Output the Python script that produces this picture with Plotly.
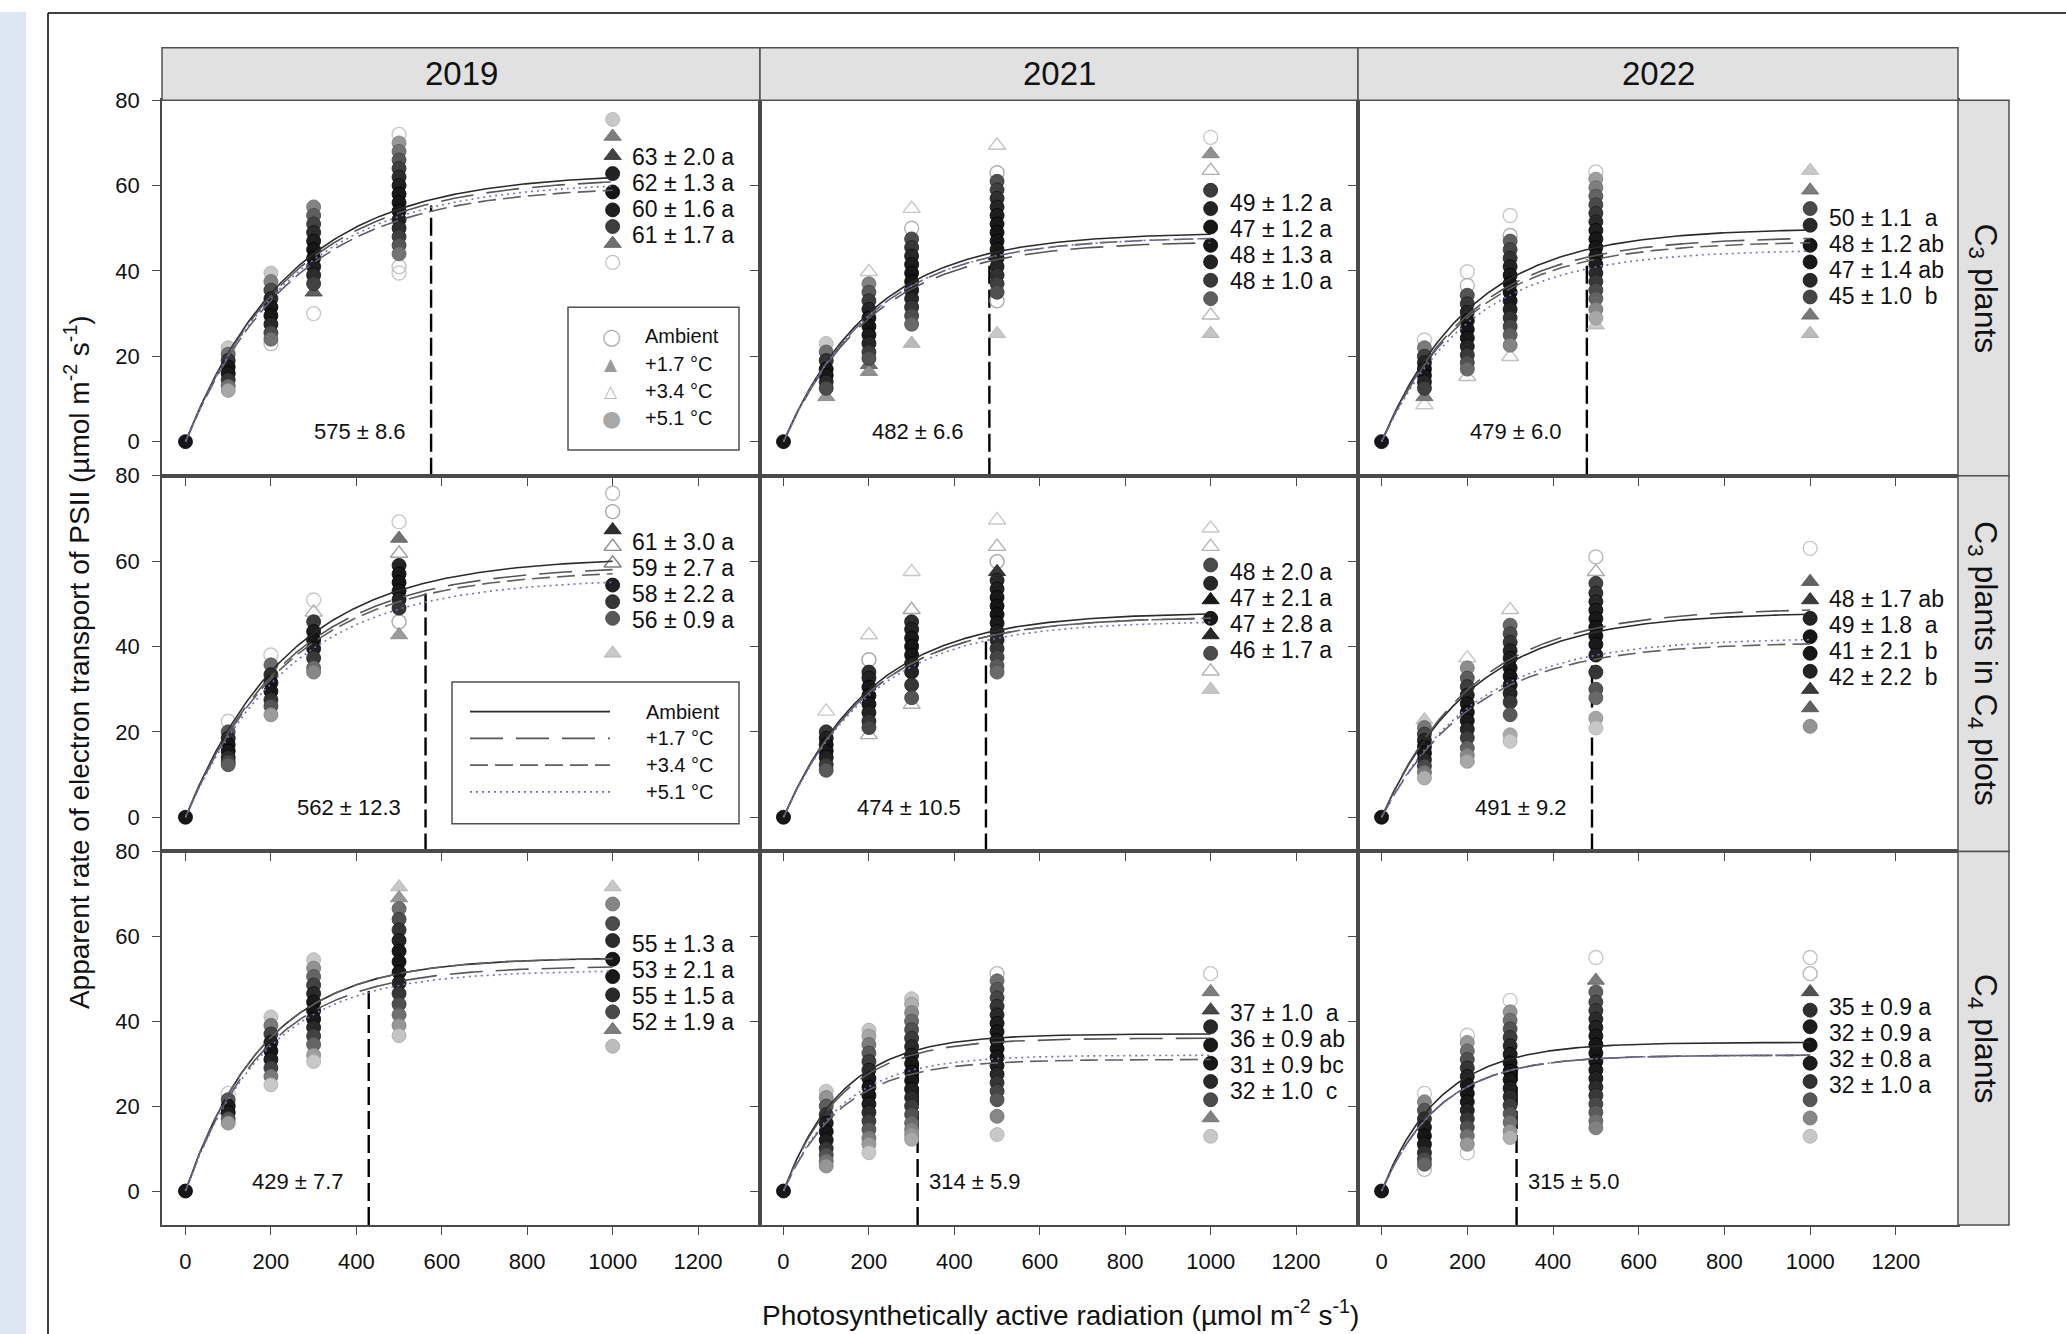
import numpy as np
import plotly.graph_objects as go

# ---------------------------------------------------------------- data
YEARS = [2019, 2021, 2022]
GROUPS = ["C3", "C3inC4", "C4"]
GROUP_TITLES = {
    "C3": "C<sub>3</sub> plants",
    "C3inC4": "C<sub>3</sub> plants in C<sub>4</sub> plots",
    "C4": "C<sub>4</sub> plants",
}
TREATMENTS = ["Ambient", "+1.7 °C", "+3.4 °C", "+5.1 °C"]
PAR_TICKS = [0, 200, 400, 600, 800, 1000, 1200]
J_TICKS = [0, 20, 40, 60, 80]

# fitted maximum apparent ETR (Ambient, +1.7, +3.4, +5.1 °C)
jmax_c3 = {2019: [63, 62, 60, 61], 2021: [49, 47, 48, 48], 2022: [50, 48, 47, 45]}
jmax_c3inc4 = {2019: [61, 59, 58, 56], 2021: [48, 47, 47, 46], 2022: [48, 49, 41, 42]}
jmax_c4 = {2019: [55, 53, 55, 52], 2021: [37, 36, 31, 32], 2022: [35, 32, 32, 32]}

se_c3 = {2019: [2.0, 1.3, 1.6, 1.7], 2021: [1.2, 1.2, 1.3, 1.0], 2022: [1.1, 1.2, 1.4, 1.0]}
se_c3inc4 = {2019: [3.0, 2.7, 2.2, 0.9], 2021: [2.0, 2.1, 2.8, 1.7], 2022: [1.7, 1.8, 2.1, 2.2]}
se_c4 = {2019: [1.3, 2.1, 1.5, 1.9], 2021: [1.0, 0.9, 0.9, 1.0], 2022: [0.9, 0.9, 0.8, 1.0]}

letters_c3 = {2019: ["a", "a", "a", "a"], 2021: ["a", "a", "a", "a"], 2022: ["a", "ab", "ab", "b"]}
letters_c3inc4 = {2019: ["a", "a", "a", "a"], 2021: ["a", "a", "a", "a"], 2022: ["ab", "a", "b", "b"]}
letters_c4 = {2019: ["a", "a", "a", "a"], 2021: ["a", "ab", "bc", "c"], 2022: ["a", "a", "a", "a"]}

# light saturation point (mean, SE)
sat_c3 = {2019: (575, 8.6), 2021: (482, 6.6), 2022: (479, 6.0)}
sat_c3inc4 = {2019: (562, 12.3), 2021: (474, 10.5), 2022: (491, 9.2)}
sat_c4 = {2019: (429, 7.7), 2021: (314, 5.9), 2022: (315, 5.0)}

# measured apparent ETR per PAR step (each list ordered from highest to lowest)
obs_c3_2019 = {
    0: [0],
    100: [22, 20.5, 19, 17.5, 16, 14.5, 13, 12],
    200: [39.5, 37.5, 35.5, 33.5, 31.5, 29.5, 27.5, 25.5, 24, 23],
    300: [55, 53, 51, 49, 47, 45, 43, 41, 39, 37, 35, 30],
    500: [72, 70, 68, 66, 64, 62, 60, 58, 56, 54, 52, 50, 48, 46, 44, 41, 39.5],
    1000: [75.5, 71.5, 67, 62.8, 58.5, 54.3, 50.4, 46.4, 42],
}
obs_c3_2021 = {
    0: [0],
    100: [23, 21, 19, 17, 15.5, 14, 12.5, 10.5],
    200: [39.8, 37, 35, 33, 31, 29, 27, 25, 23, 21, 19.5, 18, 16.4],
    300: [54.6, 50, 47.5, 45.5, 43.5, 41.5, 39.5, 37.5, 35.5, 33.5, 31.5, 29.5, 27.5, 23],
    500: [69.4, 63, 61, 59, 57, 55, 53, 51, 49, 47, 45, 43, 41, 39, 37, 35, 33, 25.3],
    1000: [71.3, 67.4, 63.5, 58.9, 54.6, 50.3, 46, 42.1, 37.8, 33.5, 29.6, 25.3],
}
obs_c3_2022 = {
    0: [0],
    100: [23.8, 22, 20, 18.5, 17, 15.5, 14, 12.5, 10.5, 8.6],
    200: [39.8, 36.6, 34.3, 32.3, 30.3, 28.3, 26.3, 24.3, 22.3, 20.3, 18.5, 17, 15.2],
    300: [53, 48.3, 47, 45, 43, 41, 39, 37, 35, 33, 31, 29, 27, 25, 22.6, 19.9],
    500: [63.2, 61.5, 59.5, 57.5, 55.5, 53.5, 51.5, 49.5, 47.5, 45.5, 43.5, 41.5, 39.5,
          37.5, 35.5, 33.5, 31, 29, 27.3],
    1000: [63.5, 58.9, 54.6, 50.7, 46, 42.1, 37.8, 33.9, 29.6, 25.3],
}
obs_c3inc4_2019 = {
    0: [0],
    100: [22.5, 20, 18.5, 17, 15.5, 14, 13, 12.3],
    200: [38, 35.7, 33.4, 31.5, 29.5, 27.5, 26, 24],
    300: [50.9, 48, 45.8, 43.5, 41.5, 39.5, 37.3, 35, 34],
    500: [69.2, 65.3, 61.8, 59, 57, 55, 53, 51, 49, 45.8, 42.7],
    1000: [75.9, 71.6, 67.3, 63.4, 59.5, 54.4, 50.5, 46.6, 38.4],
}
obs_c3inc4_2021 = {
    0: [0],
    100: [24.8, 20, 18.5, 17, 15.5, 14, 12.3, 11],
    200: [42.7, 36.9, 34, 32.6, 30.5, 28.5, 26.5, 24.5, 22.5, 21, 19.3],
    300: [57.5, 48.6, 45.8, 44, 42, 40, 38, 36, 34, 31, 28, 26.4],
    500: [69.6, 63.4, 59.9, 57.5, 55.5, 53.5, 51.5, 49.5, 47.5, 45.5, 43.5, 41.5, 39.5,
          37.5, 35.5, 34],
    1000: [67.7, 63.4, 59.1, 54.8, 50.9, 46.6, 42.7, 38.4, 34.2, 29.9],
}
obs_c3inc4_2022 = {
    0: [0],
    100: [22.8, 21, 19.5, 18, 16.5, 15, 13.5, 12, 10.5, 9.2],
    200: [37.3, 35, 32.6, 30.6, 28.6, 26.6, 24.6, 22.6, 20.6, 18.6, 16.2, 14.5, 13.1],
    300: [48.6, 45, 43, 41, 39, 37.3, 35, 33, 31, 29, 27, 24, 19.3, 17.8],
    500: [61, 57.5, 54.8, 52.5, 50.5, 48.5, 46.5, 44.5, 42.5, 40.5, 38, 34, 30, 28, 23.2, 20.9],
    1000: [63, 55.2, 50.9, 46.6, 42.3, 38.4, 34.2, 29.9, 25.6, 21.3],
}
obs_c4_2019 = {
    0: [0],
    100: [23, 21.5, 20, 18.5, 17, 16],
    200: [41, 39, 37, 35, 33, 31, 29, 27, 25],
    300: [54.5, 52.5, 50.5, 48.5, 46.5, 44.5, 42.5, 40.5, 38.5, 36.5, 34.5, 32, 30.5],
    500: [71.6, 69, 66.5, 64, 61.5, 59, 56.5, 54, 51.5, 49, 46.5, 44, 41.5, 39, 36.6],
    1000: [71.6, 67.6, 63, 59, 54.6, 50.5, 46.2, 42.2, 38, 34.1],
}
obs_c4_2021 = {
    0: [0],
    100: [23.5, 22, 20, 18, 16, 14, 12, 10, 8.5, 7.1, 5.9],
    200: [37.9, 36.5, 34.5, 32.5, 30.5, 28.5, 26.5, 24.5, 22.5, 20.5, 18.5, 16.5, 14.5,
          12.5, 11, 9],
    300: [45.3, 44, 42, 40, 38, 36, 34, 32, 30, 28, 26, 24, 22, 20, 18, 16, 14.5, 13.3, 12.2],
    500: [51.2, 49.5, 47.5, 45.5, 43.5, 41.5, 39.5, 37.5, 35.5, 33.5, 31.5, 29.5, 27.5,
          25.5, 23.5, 21.5, 17.6, 13.3],
    1000: [51.2, 46.9, 42.6, 38.7, 34.4, 30.1, 25.8, 21.5, 17.2, 12.9],
}
obs_c4_2022 = {
    0: [0],
    100: [23, 21, 19, 17, 15, 13, 11, 9, 7.5, 6.3, 5.1],
    200: [36.7, 35, 33, 31, 29, 27, 25, 23, 21, 19, 17, 15, 13, 11, 9],
    300: [44.9, 42.2, 40.2, 38.2, 36.2, 34.2, 32.2, 30.2, 28.2, 26.2, 24.2, 22.2, 20.2,
          18.2, 16.2, 14.1, 12.6],
    500: [55, 49.6, 46.9, 44.5, 42.5, 40.5, 38.5, 36.5, 34.5, 32.5, 30.5, 28.5, 26.5, 24.5,
          22.5, 20.5, 18.5, 16.5, 14.9],
    1000: [55, 51.2, 46.9, 42.6, 38.7, 34.4, 30.1, 25.8, 21.5, 17.2, 12.9],
}

# treatment code of the top / bottom readings of each column ("head|tail"),
# o = Ambient, A = +1.7 °C, a = +3.4 °C, c = +5.1 °C (the rest are +5.1 °C)
trt_c3_2019 = {100: "|", 200: "|o", 300: "|Ao", 500: "o|oo", 1000: "cAA|Ao"}
trt_c3_2021 = {100: "|A", 200: "a|AA", 300: "ao|A", 500: "ao|oA", 1000: "oAa|aA"}
trt_c3_2022 = {100: "o|Aa", 200: "oo|a", 300: "oo|a", 500: "o|A", 1000: "AA|AA"}
trt_c3inc4_2019 = {100: "o|", 200: "o|", 300: "oa|", 500: "oAa|oA", 1000: "ooAaa|A"}
trt_c3inc4_2021 = {100: "a|", 200: "ao|a", 300: "aa|a", 500: "aaoA|", 1000: "aaccA|AcaA"}
trt_c3inc4_2022 = {100: "A|", 200: "a|", 300: "a|", 500: "oa|", 1000: "oAA|AAc"}
trt_c4_2019 = {100: "o|", 200: "|", 300: "|", 500: "AA|", 1000: "A|Ac"}
trt_c4_2021 = {100: "|", 200: "|", 300: "|", 500: "o|", 1000: "oAA|Ac"}
trt_c4_2022 = {100: "o|o", 200: "o|o", 300: "o|", 500: "oA|", 1000: "ooA|"}

PANELS = {
    ("C3", 2019): (obs_c3_2019, trt_c3_2019), ("C3", 2021): (obs_c3_2021, trt_c3_2021),
    ("C3", 2022): (obs_c3_2022, trt_c3_2022),
    ("C3inC4", 2019): (obs_c3inc4_2019, trt_c3inc4_2019),
    ("C3inC4", 2021): (obs_c3inc4_2021, trt_c3inc4_2021),
    ("C3inC4", 2022): (obs_c3inc4_2022, trt_c3inc4_2022),
    ("C4", 2019): (obs_c4_2019, trt_c4_2019), ("C4", 2021): (obs_c4_2021, trt_c4_2021),
    ("C4", 2022): (obs_c4_2022, trt_c4_2022),
}
JMAX = {"C3": jmax_c3, "C3inC4": jmax_c3inc4, "C4": jmax_c4}
SE = {"C3": se_c3, "C3inC4": se_c3inc4, "C4": se_c4}
LETTERS = {"C3": letters_c3, "C3inC4": letters_c3inc4, "C4": letters_c4}
SAT = {"C3": sat_c3, "C3inC4": sat_c3inc4, "C4": sat_c4}

# ---------------------------------------------------------------- layout / style
W, H = 2066, 1334
COL_PX = [(162, 760), (760, 1358), (1358, 1958)]
ROW_PX = [(89, 468), (468, 847), (847, 1224)]
STRIP_TOP, STRIP_RIGHT = 36, 2009
X_RANGE = [-55, 1345]
Y_RANGE = [-8, 80]
FONT = "Arial, 'Liberation Sans', Helvetica, sans-serif"
INK = "#111111"
AXIS_COL = "#4a4a4a"

# vertical position (y units) of the first J_max label in each panel
LABEL_TOP = {
    ("C3", 2019): 66.7, ("C3", 2021): 56.0, ("C3", 2022): 52.5,
    ("C3inC4", 2019): 64.5, ("C3inC4", 2021): 57.4, ("C3inC4", 2022): 51.2,
    ("C4", 2019): 58.3, ("C4", 2021): 41.9, ("C4", 2022): 43.4,
}
SAT_LABEL_RIGHT = {("C4", 2021), ("C4", 2022)}

CURVE_STYLE = [
    dict(color="#2a2a2a", width=1.6, dash="solid"),
    dict(color="#555555", width=1.6, dash="33px,13px"),
    dict(color="#606060", width=1.6, dash="18px,7px"),
    dict(color="#6f6fc8", width=1.6, dash="2px,4px"),
]
SYMBOLS = {"o": "circle-open", "a": "triangle-up-open", "A": "triangle-up", "c": "circle"}


def px_x(p):
    return p / W


def px_y(p):
    return 1 - p / H


def response(par, jmax, sat):
    # exponential rise that reaches 90 % of J_max at the saturation point
    return jmax * (1 - np.exp(-np.log(10) * np.asarray(par, float) / sat))


def column_codes(n, spec):
    head, tail = spec.split("|")
    codes = ["c"] * n
    for k, ch in enumerate(head):
        codes[k] = ch
    for k, ch in enumerate(tail):
        codes[n - len(tail) + k] = ch
    return codes


def paper_text(x, y, text, size, xanchor="center", yanchor="middle", **kw):
    return dict(x=px_x(x), y=px_y(y), xref="paper", yref="paper", text=text,
                xanchor=xanchor, yanchor=yanchor, showarrow=False,
                font=dict(size=size, color=kw.pop("color", INK), family=kw.pop("family", FONT)),
                **kw)


fig = go.Figure()
annotations, shapes, axes = [], [], {}

for r, grp in enumerate(GROUPS):
    for c, yr in enumerate(YEARS):
        idx = r * 3 + c + 1
        sfx = "" if idx == 1 else str(idx)
        xr, yr_ref = f"x{sfx}", f"y{sfx}"
        axes[f"xaxis{sfx}"] = dict(
            domain=[px_x(COL_PX[c][0]), px_x(COL_PX[c][1])], anchor=yr_ref, range=X_RANGE,
            tickvals=PAR_TICKS, showticklabels=(r == 2), ticks="outside", ticklen=8,
            tickwidth=1.3, tickcolor=AXIS_COL, showline=True, linecolor=AXIS_COL,
            linewidth=1.5, mirror=True, showgrid=False, zeroline=False,
            ticklabelstandoff=8, tickfont=dict(size=22, color=INK, family=FONT),
        )
        axes[f"yaxis{sfx}"] = dict(
            domain=[px_y(ROW_PX[r][1]), px_y(ROW_PX[r][0])], anchor=xr, range=Y_RANGE,
            tickvals=J_TICKS, showticklabels=(c == 0), ticks="outside", ticklen=8,
            tickwidth=1.3, tickcolor=AXIS_COL, showline=True, linecolor=AXIS_COL,
            linewidth=1.5, mirror=True, showgrid=False, zeroline=False,
            ticklabelstandoff=8, tickfont=dict(size=22, color=INK, family=FONT),
        )

        jmax = JMAX[grp][yr]
        se = SE[grp][yr]
        letters = LETTERS[grp][yr]
        sat, sat_se = SAT[grp][yr]
        obs, trt = PANELS[(grp, yr)]

        # saturation point marker line
        sat_top = float(response(sat, np.mean(jmax), sat))
        fig.add_trace(go.Scatter(
            x=[sat, sat], y=[Y_RANGE[0], sat_top], mode="lines", xaxis=xr, yaxis=yr_ref,
            line=dict(color="black", width=2.4, dash="18px,6px"), showlegend=False,
            hoverinfo="skip"))

        # measured points, grouped by treatment symbol
        pts = {k: dict(x=[], y=[], fill=[], edge=[]) for k in "oaAc"}
        for par, vals in obs.items():
            v = np.asarray(vals, float)
            mid = np.median(v)
            half = max(np.abs(v - mid).max(), 1e-9)
            t = np.abs(v - mid) / half
            codes = column_codes(len(v), trt.get(par, "|"))
            for val, tt, code in zip(v, t, codes):
                g = int(22 + 178 * tt ** 2)
                if code in "oa":
                    gl = int(125 + 75 * tt)
                    pts[code]["fill"].append("rgba(0,0,0,0)")
                    pts[code]["edge"].append(f"rgb({gl},{gl},{gl})")
                else:
                    pts[code]["fill"].append(f"rgb({g},{g},{g})")
                    ge = max(g - 25, 0)
                    pts[code]["edge"].append(f"rgb({ge},{ge},{ge})")
                pts[code]["x"].append(par)
                pts[code]["y"].append(val)
        names = {"o": TREATMENTS[0], "A": TREATMENTS[1], "a": TREATMENTS[2], "c": TREATMENTS[3]}
        for code in "oaAc":
            p = pts[code]
            if not p["x"]:
                continue
            is_open = code in "oa"
            fig.add_trace(go.Scatter(
                x=p["x"], y=p["y"], mode="markers", xaxis=xr, yaxis=yr_ref,
                name=names[code], showlegend=False, cliponaxis=False,
                marker=dict(symbol=SYMBOLS[code], size=14 if code in "oc" else 15,
                            color=p["edge"] if is_open else p["fill"],
                            line=dict(color=p["edge"], width=1.4 if is_open else 0.8)),
            ))

        # fitted light-response curves
        par_line = np.linspace(0, 1000, 241)
        for k in range(4):
            fig.add_trace(go.Scatter(
                x=par_line, y=response(par_line, jmax[k], sat), mode="lines",
                xaxis=xr, yaxis=yr_ref, line=CURVE_STYLE[k], name=TREATMENTS[k],
                showlegend=False, hoverinfo="skip"))

        # J_max labels
        two = any(len(s) > 1 for s in letters)
        for k in range(4):
            pad = "\u00a0\u00a0" if (two and len(letters[k]) == 1) else "\u00a0"
            annotations.append(dict(
                x=1000, y=LABEL_TOP[(grp, yr)], xref=xr, yref=yr_ref, xanchor="left",
                yanchor="middle", xshift=17, yshift=-26 * k, showarrow=False,
                text=f"{jmax[k]} ± {se[k]:.1f}{pad}{letters[k]}",
                font=dict(size=23, color=INK, family=FONT)))

        # saturation point label
        right = (grp, yr) in SAT_LABEL_RIGHT
        annotations.append(dict(
            x=sat, y=2.3, xref=xr, yref=yr_ref, xanchor="left" if right else "right",
            yanchor="middle", xshift=9 if right else -23, showarrow=False,
            text=f"{sat} ± {sat_se:.1f}", font=dict(size=22, color=INK, family=FONT)))

# ---------------------------------------------------------------- strips
for c, yr in enumerate(YEARS):
    shapes.append(dict(type="rect", xref="paper", yref="paper",
                       x0=px_x(COL_PX[c][0]), x1=px_x(COL_PX[c][1]),
                       y0=px_y(ROW_PX[0][0]), y1=px_y(STRIP_TOP),
                       fillcolor="#e1e1e1", line=dict(color="#505050", width=1.5)))
    annotations.append(paper_text(sum(COL_PX[c]) / 2, (STRIP_TOP + ROW_PX[0][0]) / 2,
                                  str(yr), 33))
for r, grp in enumerate(GROUPS):
    shapes.append(dict(type="rect", xref="paper", yref="paper",
                       x0=px_x(COL_PX[2][1]), x1=px_x(STRIP_RIGHT),
                       y0=px_y(ROW_PX[r][1]), y1=px_y(ROW_PX[r][0]),
                       fillcolor="#e1e1e1", line=dict(color="#505050", width=1.5)))
    annotations.append(paper_text((COL_PX[2][1] + STRIP_RIGHT) / 2, sum(ROW_PX[r]) / 2,
                                  GROUP_TITLES[grp], 32, textangle=90))

# ---------------------------------------------------------------- axis titles
annotations.append(paper_text(
    1060, 1313, "Photosynthetically active radiation (µmol m<sup>-2</sup> s<sup>-1</sup>)", 28))
annotations.append(paper_text(
    77, 656, "Apparent rate of electron transport of PSII (µmol m<sup>-2</sup> s<sup>-1</sup>)",
    28, textangle=-90))

# ---------------------------------------------------------------- legends
# symbol legend (top-left panel)
shapes.append(dict(type="rect", xref="paper", yref="paper", x0=px_x(568), x1=px_x(739),
                   y0=px_y(442), y1=px_y(298), fillcolor="white",
                   line=dict(color="#505050", width=1.5)))
legend_glyphs = [("○", "#b0b0b0", 22), ("▲", "#9a9a9a", 17), ("△", "#b8b8b8", 17),
                 ("●", "#a8a8a8", 22)]
for k, (glyph, col, gsize) in enumerate(legend_glyphs):
    yy = 327 + 27.7 * k
    annotations.append(paper_text(611, yy, glyph, gsize, color=col, family="DejaVu Sans"))
    annotations.append(paper_text(643, yy, TREATMENTS[k], 20, xanchor="left"))
# line legend (middle-left panel)
shapes.append(dict(type="rect", xref="paper", yref="paper", x0=px_x(452), x1=px_x(739),
                   y0=px_y(819), y1=px_y(676), fillcolor="white",
                   line=dict(color="#505050", width=1.5)))
for k in range(4):
    yy = 706 + 27 * k
    st = CURVE_STYLE[k]
    shapes.append(dict(type="line", xref="paper", yref="paper", x0=px_x(470), x1=px_x(610),
                       y0=px_y(yy), y1=px_y(yy),
                       line=dict(color=st["color"], width=st["width"], dash=st["dash"])))
    annotations.append(paper_text(644, yy, TREATMENTS[k], 20, xanchor="left"))

# ---------------------------------------------------------------- page frame
shapes.append(dict(type="rect", xref="paper", yref="paper", x0=0, x1=px_x(26), y0=0, y1=1,
                   fillcolor="#dde7f3", line=dict(width=0), layer="below"))
shapes.append(dict(type="line", xref="paper", yref="paper", x0=px_x(48), x1=1,
                   y0=px_y(1), y1=px_y(1), line=dict(color="black", width=1.5)))
shapes.append(dict(type="line", xref="paper", yref="paper", x0=px_x(48), x1=px_x(48),
                   y0=0, y1=px_y(1), line=dict(color="black", width=1.5)))

fig.update_layout(
    width=W, height=H, margin=dict(l=0, r=0, t=0, b=0),
    paper_bgcolor="white", plot_bgcolor="white", showlegend=False,
    font=dict(family=FONT, color=INK), annotations=annotations, shapes=shapes, **axes,
)
fig.write_html("out.html")
